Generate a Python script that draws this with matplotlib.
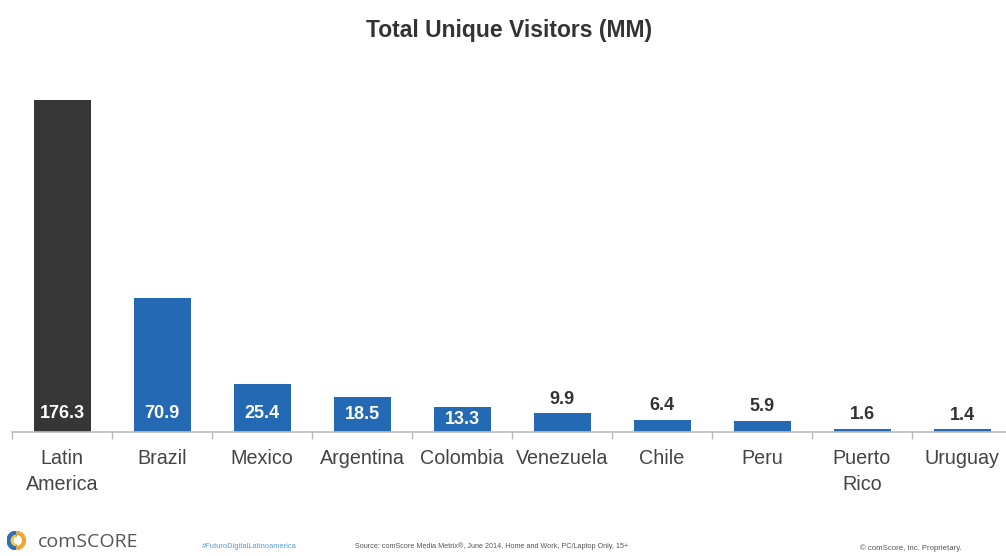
import matplotlib
matplotlib.use("Agg")
import matplotlib.pyplot as plt
from matplotlib.patches import Wedge

categories = ["Latin\nAmerica", "Brazil", "Mexico", "Argentina", "Colombia",
              "Venezuela", "Chile", "Peru", "Puerto\nRico", "Uruguay"]
visitors = [176.3, 70.9, 25.4, 18.5, 13.3, 9.9, 6.4, 5.9, 1.6, 1.4]
inside_labels = [True, True, True, True, True, False, False, False, False, False]

plt.rcParams["font.family"] = ["Liberation Sans", "DejaVu Sans"]

W, H = 1006, 556
fig = plt.figure(figsize=(W / 100, H / 100), dpi=100)
fig.patch.set_facecolor("white")

ax = fig.add_axes([12 / W, (H - 432) / H, 1000 / W, 358 / H])
ax.set_xlim(-0.5, len(categories) - 0.5)
ax.set_ylim(0, 190)

colors = ["#363636"] + ["#2369b3"] * (len(categories) - 1)
x = list(range(len(categories)))
ax.bar(x, visitors, width=0.57, color=colors, zorder=2)

for xi, v, inside in zip(x, visitors, inside_labels):
    label = f"{v:.1f}"
    if inside:
        ax.text(xi, min(10.0, v / 2), label, ha="center", va="center",
                color="white", fontsize=13, fontweight="bold", zorder=3)
    else:
        ax.text(xi, v + 3.0, label, ha="center", va="bottom",
                color="#333333", fontsize=13, fontweight="bold", zorder=3)

for s in ["top", "right", "left"]:
    ax.spines[s].set_visible(False)
ax.spines["bottom"].set_color("#bbbbbb")
ax.spines["bottom"].set_linewidth(1.2)
ax.set_yticks([])
ax.set_xticks([i - 0.5 for i in range(len(categories) + 1)])
ax.set_xticklabels([])
ax.tick_params(axis="x", direction="out", length=5, color="#bbbbbb", width=1.0)
for xi, name in zip(x, categories):
    ax.text(xi, -9.0, name, ha="center", va="top", fontsize=14.2,
            color="#444444", linespacing=1.5, clip_on=False)

fig.text(0.506, 1 - 31 / H, "Total Unique Visitors (MM)", ha="center",
         va="center", fontsize=16.5, fontweight="bold", color="#333333")

# footer: logo mark and small credits
logo_ax = fig.add_axes([7 / W, (H - 550) / H, 19 / W, 19 / H])
logo_ax.set_xlim(-1, 1)
logo_ax.set_ylim(-1, 1)
logo_ax.set_aspect("equal")
logo_ax.axis("off")
logo_ax.add_patch(Wedge((0, 0), 1.0, 95, 265, width=0.5, color="#2f6fb3"))
logo_ax.add_patch(Wedge((0, 0), 0.95, -85, 85, width=0.3, color="#f0a62a"))
logo_ax.add_patch(Wedge((0, 0), 0.55, 100, 260, width=0.15, color="#f5c842"))

fig.text(38 / W, 1 - 542 / H, "comSCORE", ha="left", va="center",
         fontsize=14, color="#555555", family=["Open Sans", "DejaVu Sans"])
fig.text(202 / W, 1 - 546 / H, "#FuturoDigitalLatinoamerica", ha="left",
         va="center", fontsize=5.4, color="#5b9bd5")
fig.text(355 / W, 1 - 546 / H,
         "Source: comScore Media Metrix\u00ae, June 2014, Home and Work, PC/Laptop Only, 15+",
         ha="left", va="center", fontsize=5.2, color="#555555")
fig.text(860 / W, 1 - 548 / H, "\u00a9 comScore, Inc. Proprietary.", ha="left",
         va="center", fontsize=5.6, color="#555555")

fig.savefig("out.png", dpi=100, facecolor="white")
